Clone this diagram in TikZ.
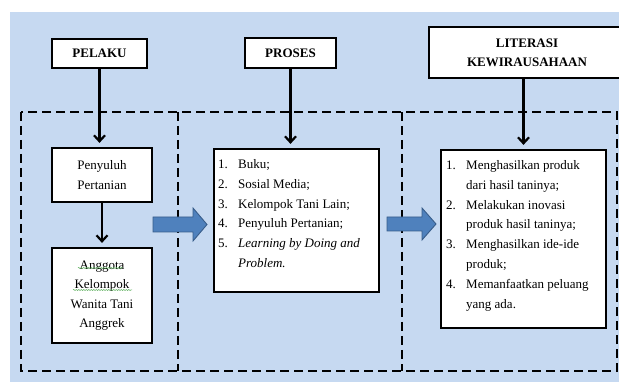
\documentclass[tikz,border=0pt]{standalone}
\usepackage{fontspec}
\setmainfont{Liberation Serif}
\usetikzlibrary{arrows.meta,decorations.pathmorphing}
\definecolor{bgblue}{RGB}{198,217,241}
\definecolor{arrfill}{RGB}{79,129,189}
\definecolor{arrline}{RGB}{56,93,138}
\definecolor{spell}{RGB}{90,175,90}
\begin{document}
\begin{tikzpicture}[x=1pt,y=-1pt,
  box/.style={draw=black, line width=2.2pt, fill=white, inner sep=0pt, align=center, font=\fontsize{13}{19.5}\selectfont},
  head/.style={box, font=\bfseries\fontsize{13}{19}\selectfont},
  conn/.style={line width=2.2pt, -{Straight Barb[length=6pt,width=11pt]}, shorten >=4pt},
  frame/.style={line width=2.8pt, dash pattern=on 9pt off 5pt},
  blockarrow/.style={fill=arrfill, draw=arrline, line width=0.9pt},
  listtext/.style={inner sep=0pt, anchor=north west, font=\fontsize{13}{19.8}\selectfont},
  squiggle/.style={draw=spell, line width=0.5pt, decorate, decoration={snake, amplitude=0.6pt, segment length=2.5pt}}
]
\clip (0,0) rectangle (619,382);
\fill[bgblue] (10,12) rectangle (619,382);

% dashed frame
\draw[frame] (21,112) rectangle (617,371);
\draw[frame] (178,112) -- (178,371);
\draw[frame] (402,112) -- (402,371);

% boxes
\node[head, minimum width=95pt, minimum height=29pt] (pelaku) at (99.5,53.5) {PELAKU};
\node[head, minimum width=91pt, minimum height=30pt] (proses) at (290.5,53) {PROSES};
\node[head, minimum width=196pt, minimum height=51pt] (literasi) at (527,52.5) {LITERASI\\KEWIRAUSAHAAN};
\node[box, minimum width=100pt, minimum height=54pt] (penyuluh) at (102,175) {Penyuluh\\Pertanian};
\node[box, minimum width=100pt, minimum height=95pt] (anggota) at (102,295.5) {Anggota\\Kelompok\\Wanita Tani\\Anggrek};
\node[box, minimum width=165pt, minimum height=143pt] (proseslist) at (296.5,220.5) {};
\node[box, minimum width=165pt, minimum height=178pt] (literasilist) at (523.5,239) {};

% list texts
\node[listtext] (prosestext) at (218,154.5) {\begin{tabular}{@{}p{20pt}@{}l@{}}
1.&Buku;\\
2.&Sosial Media;\\
3.&Kelompok Tani Lain;\\
4.&Penyuluh Pertanian;\\
5.&\textit{Learning by Doing and}\\
&\textit{Problem.}
\end{tabular}};
\node[listtext] (literasitext) at (446,155.5) {\begin{tabular}{@{}p{20pt}@{}l@{}}
1.&Menghasilkan produk\\
&dari hasil taninya;\\
2.&Melakukan inovasi\\
&produk hasil taninya;\\
3.&Menghasilkan ide-ide\\
&produk;\\
4.&Memanfaatkan peluang\\
&yang ada.
\end{tabular}};

% spell-check squiggles
\draw[squiggle] (78,268) -- (123,268);
\draw[squiggle] (73,290) -- (132,290);

% connectors
\draw[conn] (pelaku.south) -- (pelaku.south |- penyuluh.north);
\draw[conn] (penyuluh.south) -- (anggota.north);
\draw[conn] (proses.south) -- (proses.south |- proseslist.north);
\draw[conn] (literasilist.north |- literasi.south) -- (literasilist.north);

% block arrows
\draw[blockarrow] (153,217) -- (193,217) -- (193,208) -- (207,224.5) -- (193,241) -- (193,232) -- (153,232) -- cycle;
\draw[blockarrow] (387,217) -- (422,217) -- (422,208) -- (436,224) -- (422,240) -- (422,231) -- (387,231) -- cycle;
\end{tikzpicture}
\end{document}
